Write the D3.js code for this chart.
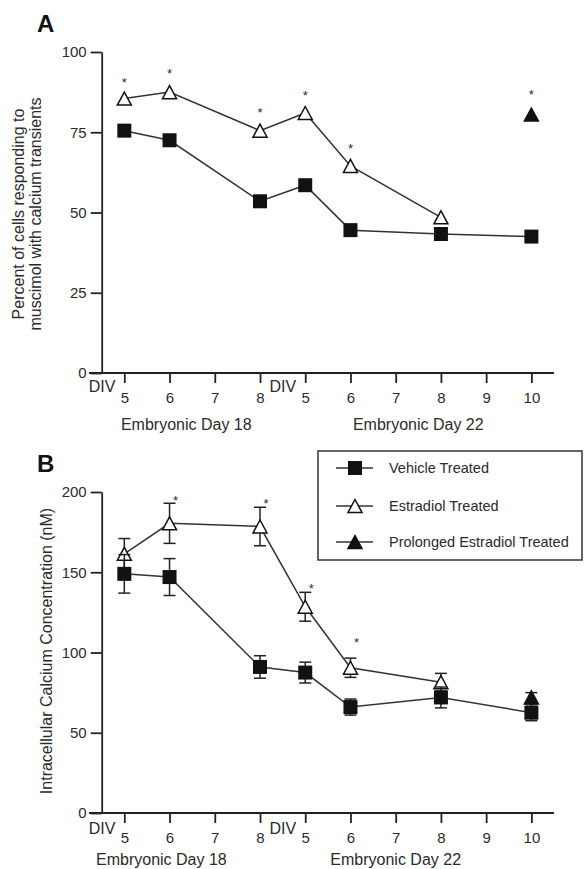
<!DOCTYPE html>
<html>
<head>
<meta charset="utf-8">
<title>Calcium responses</title>
<script src="https://cdn.jsdelivr.net/npm/d3@7"></script>
<style>
body { margin: 0; background: #fff; }
svg text { font-family: "Liberation Sans", Arial, sans-serif; fill: #2b2b2b; }
.axis path, .axis line { stroke: #222; stroke-width: 1.8; }
.axis text { font-size: 15px; fill: #2b2b2b; }
.series { fill: none; stroke: #333; stroke-width: 1.5; }
.err { stroke: #222; stroke-width: 1.5; }
</style>
</head>
<body>
<div id="chart"></div>
<script>
const width = 584
const height = 869

// Culture days: E18 DIV 5-8, then E22 DIV 5-10
const dayLabels = ["5", "6", "7", "8", "5", "6", "7", "8", "9", "10"]
const groupLabels = ["Embryonic Day 18", "Embryonic Day 22"]
const seriesNames = ["Vehicle Treated", "Estradiol Treated", "Prolonged Estradiol Treated"]

// Panel A: percent of cells responding
const vehicleA = [75.5, 72.5, null, 53.5, 58.5, 44.5, null, 43.3, null, 42.5]
const estradiolA = [85.5, 87.5, null, 75.5, 81, 64.5, null, 48.5, null, null]
const prolongedA = [null, null, null, null, null, null, null, null, null, 80.5]
const starsA = [[0, 91.5], [1, 94.2], [3, 82.2], [4, 87.5], [5, 70.8], [9, 87.6]]
const yTicksA = [0, 25, 50, 75, 100]

// Panel B: intracellular calcium (nM), mean and error
const vehicleB = [149, 147, null, 91, 87.5, 66, null, 72, null, 62.5]
const vehicleErrB = [12, 11.5, null, 7, 6.5, 5, null, 6.5, null, 5]
const estradiolB = [161.5, 180.5, null, 178.5, 128.5, 90.5, null, 81.5, null, null]
const estradiolErrB = [9.5, 12.5, null, 12, 9, 6, null, 5.5, null, null]
const prolongedB = [null, null, null, null, null, null, null, null, null, 72]
const prolongedErrB = [null, null, null, null, null, null, null, null, null, 3]
const starsB = [[1, 196.3], [3, 194.4], [4, 142], [5, 107.8]]
const yTicksB = [0, 50, 100, 150, 200]

const svg = d3.select("div#chart").append("svg").attr("width", width).attr("height", height)

const x = d3.scaleLinear().domain([-0.5, 9.5]).range([101.7, 554])
const axisY = 373
const axisTop = 52

function toPoints(values, errs) {
    return values.map((v, i) => ({i: i, v: v, e: errs ? errs[i] : null})).filter(d => d.v !== null)
}

function triangle(cx, cy) {
    return `M${cx},${cy - 6.5}L${cx + 7},${cy + 6.5}L${cx - 7},${cy + 6.5}Z`
}

function drawMarker(g, kind, cx, cy) {
    if (kind === "square") {
        g.append("rect").attr("x", cx - 7).attr("y", cy - 7).attr("width", 14).attr("height", 14).attr("fill", "#111")
    } else {
        g.append("path").attr("d", triangle(cx, cy))
            .attr("fill", kind === "open" ? "#fff" : "#111")
            .attr("stroke", "#111").attr("stroke-width", 1.5).attr("stroke-linejoin", "miter")
    }
}

function drawPanel(p) {
    const g = svg.append("g").attr("transform", `translate(0, ${p.offsetY})`)
    const y = d3.scaleLinear().domain([0, p.yMax]).range([axisY, axisTop])

    // Panel letter
    g.append("text").attr("x", 37).attr("y", p.letterY).attr("font-size", 24).attr("font-weight", "bold")
        .style("fill", "#111").text(p.letter)

    // Y axis
    g.append("g").attr("class", "axis").attr("transform", `translate(${x.range()[0]}, 0)`)
        .call(d3.axisLeft(y).tickValues(p.yTicks).tickSize(11).tickSizeOuter(0).tickPadding(4))

    // X axis, drawn a bit past the y axis on the left
    const xAxisGroup = g.append("g").attr("class", "axis").attr("transform", `translate(0, ${axisY})`)
        .call(d3.axisBottom(x).tickValues(d3.range(dayLabels.length)).tickSize(10).tickSizeOuter(0)
            .tickPadding(9).tickFormat(i => dayLabels[i]))
    xAxisGroup.select(".domain").remove()
    xAxisGroup.append("line").attr("x1", 89).attr("x2", x.range()[1]).attr("y1", 0).attr("y2", 0)

    // DIV marks in front of each culture series
    ;[0, 4].forEach(i => {
        g.append("text").attr("x", x(i) - 9).attr("y", axisY + p.divDy).attr("text-anchor", "end")
            .attr("font-size", 16).text("DIV")
    })
    groupLabels.forEach((label, k) => {
        g.append("text").attr("x", x(p.groupAt[k])).attr("y", axisY + p.groupDy).attr("text-anchor", "middle")
            .attr("font-size", 16).text(label)
    })

    // Y title
    p.title.forEach((line, k) => {
        g.append("text").attr("transform", `translate(${p.titleX[k]}, ${p.titleY}) rotate(-90)`)
            .attr("text-anchor", "middle").attr("font-size", 16).text(line)
    })

    const line = d3.line().x(d => x(d.i)).y(d => y(d.v))
    const series = [
        {kind: "filled", pts: toPoints(p.prolonged, p.prolongedErr)},
        {kind: "open", pts: toPoints(p.estradiol, p.estradiolErr)},
        {kind: "square", pts: toPoints(p.vehicle, p.vehicleErr)}
    ]

    series.forEach(s => {
        const sg = g.append("g")
        // error bars
        s.pts.filter(d => d.e !== null).forEach(d => {
            const cx = x(d.i)
            const top = y(d.v + d.e)
            const bottom = y(d.v - d.e)
            sg.append("line").attr("class", "err").attr("x1", cx).attr("x2", cx).attr("y1", top).attr("y2", bottom)
            sg.append("line").attr("class", "err").attr("x1", cx - 6).attr("x2", cx + 6).attr("y1", top).attr("y2", top)
            sg.append("line").attr("class", "err").attr("x1", cx - 6).attr("x2", cx + 6).attr("y1", bottom).attr("y2", bottom)
        })
        if (s.pts.length > 1) sg.append("path").attr("class", "series").attr("d", line(s.pts))
        s.pts.forEach(d => drawMarker(sg, s.kind, x(d.i), y(d.v)))
    })

    // significance stars
    p.stars.forEach(([i, v]) => {
        g.append("text").attr("x", x(i) + p.starDx).attr("y", y(v) + 7.5).attr("text-anchor", "middle")
            .attr("font-size", 13).text("*")
    })
    return g
}

drawPanel({
    offsetY: 0, letter: "A", letterY: 32, yMax: 100, yTicks: yTicksA,
    vehicle: vehicleA, estradiol: estradiolA, prolonged: prolongedA,
    stars: starsA, starDx: 0,
    divDy: 19, groupDy: 57, groupAt: [1.37, 6.5],
    title: ["Percent of cells responding to", "muscimol with calcium transients"],
    titleX: [24, 41], titleY: 214
})

const panelB = drawPanel({
    offsetY: 440, letter: "B", letterY: 32, yMax: 200, yTicks: yTicksB,
    vehicle: vehicleB, vehicleErr: vehicleErrB,
    estradiol: estradiolB, estradiolErr: estradiolErrB,
    prolonged: prolongedB, prolongedErr: prolongedErrB,
    stars: starsB, starDx: 6,
    divDy: 21, groupDy: 52, groupAt: [0.82, 6.0],
    title: ["Intracellular Calcium Concentration (nM)"],
    titleX: [52], titleY: 211
})

// Legend (inside panel B)
const legend = panelB.append("g").attr("id", "legend")
legend.append("rect").attr("x", 318).attr("y", 11).attr("width", 264).attr("height", 109)
    .attr("fill", "#fff").attr("stroke", "#333").attr("stroke-width", 1.5)
const legendKinds = ["square", "open", "filled"]
const legendRows = [28, 66, 102]
seriesNames.forEach((name, k) => {
    const row = legend.append("g")
    row.append("line").attr("x1", 336).attr("x2", 373).attr("y1", legendRows[k]).attr("y2", legendRows[k])
        .attr("stroke", "#333").attr("stroke-width", 1.5)
    drawMarker(row, legendKinds[k], 355, legendRows[k])
    row.append("text").attr("x", 389).attr("y", legendRows[k] + 5.3).attr("font-size", 14.5).text(name)
})
</script>
</body>
</html>
